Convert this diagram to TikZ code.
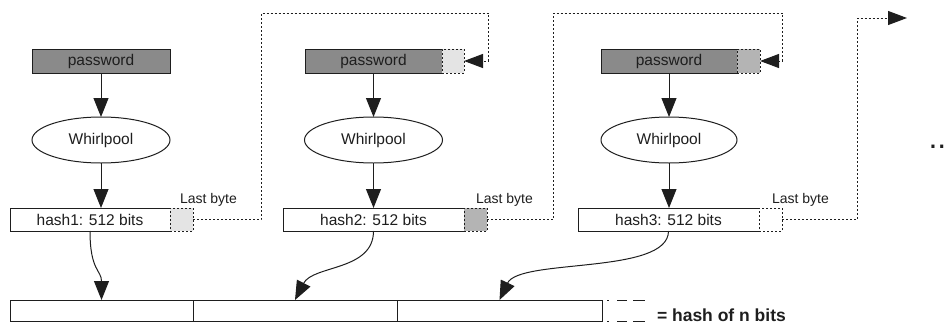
\documentclass[tikz,border=0pt]{standalone}
\usepackage{fontspec}
\setmainfont{Liberation Sans}
\usetikzlibrary{arrows.meta,shapes.geometric}
\definecolor{pwgray}{HTML}{8A8A8A}
\definecolor{lightg}{HTML}{E4E4E4}
\definecolor{midg}{HTML}{B4B4B4}
\definecolor{ink}{HTML}{1E1E1E}
\begin{document}
\begin{tikzpicture}[x=1pt,y=-1pt,
  every node/.style={inner sep=0pt,outer sep=0pt},
  blk/.style={draw=ink,line width=1pt,rectangle,font=\fontsize{15.5}{18}\selectfont,text=ink},
  pwbox/.style={blk,fill=pwgray,minimum height=24pt},
  hashbox/.style={blk,fill=white,minimum height=23pt},
  bytebox/.style={draw=ink,line width=1pt,dash pattern=on 2pt off 2pt,rectangle,minimum width=23pt},
  ell/.style={blk,ellipse,minimum width=138pt,minimum height=46pt},
  botbox/.style={draw=ink,line width=1pt,rectangle,minimum height=21pt},
  lbl/.style={font=\fontsize{14}{16}\selectfont,text=ink,anchor=base west},
  arr/.style={draw=ink,line width=1pt,-{Triangle[length=19pt,width=15pt]}},
  dotline/.style={draw=ink,line width=1pt,dash pattern=on 2pt off 2pt,-{Triangle[length=19pt,width=14pt]}}
]
\useasboundingbox (0,0) rectangle (947,324);

% Block 1
\node[pwbox,minimum width=138pt] (pw1) at (101,61) {password};
\node[ell] (ell1) at (101,140) {Whirlpool};
\node[hashbox,minimum width=160pt] (hash1) at (90,219.5) {hash1: 512 bits};
\node[bytebox,fill=lightg,minimum height=23pt] (lb1) at (181.5,219.5) {};
\node[lbl] (t1) at (180,203.5) {Last byte};

% Block 2
\node[pwbox,minimum width=137pt] (pw2) at (373.5,61) {password};
\node[bytebox,fill=lightg,minimum width=22pt,minimum height=24pt] (lbp2) at (453,61) {};
\node[ell] (ell2) at (373.5,140) {Whirlpool};
\node[hashbox,minimum width=181pt] (hash2) at (373.5,219.5) {hash2: 512 bits};
\node[bytebox,fill=midg,minimum height=23pt] (lb2) at (475.5,219.5) {};
\node[lbl] (t2) at (476,203.5) {Last byte};

% Block 3
\node[pwbox,minimum width=136pt] (pw3) at (669,61) {password};
\node[bytebox,fill=midg,minimum height=24pt] (lbp3) at (748.5,61) {};
\node[ell,minimum width=136pt] (ell3) at (669,140) {Whirlpool};
\node[hashbox,minimum width=181pt] (hash3) at (668.5,219.5) {hash3: 512 bits};
\node[bytebox,fill=white,minimum height=23pt] (lb3) at (770.5,219.5) {};
\node[lbl] (t3) at (772,203.5) {Last byte};

% continuation
\coordinate (cont) at (907,18);
\node[font=\fontsize{32}{34}\selectfont,text=ink,anchor=base west] (dots) at (928.5,148.6) {..};

% Bottom row
\node[botbox,minimum width=183pt] (bot1) at (101.5,310.5) {};
\node[botbox,minimum width=204pt] (bot2) at (295,310.5) {};
\node[botbox,minimum width=205pt] (bot3) at (499.5,310.5) {};
\draw[draw=ink,line width=1pt,dash pattern=on 2pt off 8pt on 10pt off 6pt on 12pt] ([xshift=5pt]bot3.north east) -- ++(38,0);
\draw[draw=ink,line width=1pt,dash pattern=on 2pt off 8pt on 10pt off 6pt on 12pt] ([xshift=5pt]bot3.south east) -- ++(38,0);
\node[font=\bfseries\fontsize{17.5}{20}\selectfont,text=ink,anchor=base west] (legend) at (657,321) {= hash of n bits};

% Solid arrows
\draw[arr] (pw1.south) -- (ell1.north);
\draw[arr] (ell1.south) -- (ell1.south |- hash1.north);
\draw[arr] (pw2.south) -- (ell2.north);
\draw[arr] (ell2.south) -- (ell2.south |- hash2.north);
\draw[arr] (pw3.south) -- (ell3.north);
\draw[arr] (ell3.south) -- (ell3.south |- hash3.north);

% Curved arrows to the result
\draw[arr] (hash1.south) .. controls +(0,40) and +(0,-30) .. (bot1.north);
\draw[arr] (hash2.south) .. controls +(0,40) and +(18,-35) .. (bot2.north);
\draw[arr] (hash3.south) .. controls +(0,44) and +(20,-42) .. (bot3.north);

% Dotted feedback connectors
\draw[dotline] (lb1.east) -- (261,219.5) -- (261,13) -- (488,13) -- (488,61) -- (lbp2.east);
\draw[dotline] (lb2.east) -- (553,219.5) -- (553,13) -- (782,13) -- (782,61) -- (lbp3.east);
\draw[dotline] (lb3.east) -- (857,219.5) -- (857,18) -- (cont);
\end{tikzpicture}
\end{document}
